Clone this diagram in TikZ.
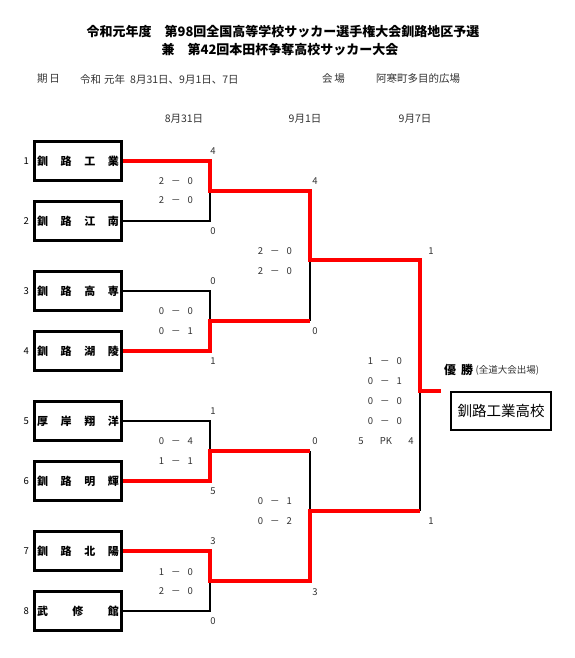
\documentclass[tikz,border=0pt]{standalone}
\usepackage{fontspec}
\setmainfont{Noto Sans CJK JP}
\usepackage{tikz}
\usetikzlibrary{positioning,calc}
\definecolor{winred}{RGB}{255,0,0}
\definecolor{textgray}{RGB}{50,50,50}
\tikzset{
  team/.style={draw,line width=3pt,minimum width=87pt,minimum height=39pt,inner sep=0pt,
    font=\bfseries\fontsize{11}{12}\selectfont},
  seed/.style={inner sep=0pt,font=\fontsize{9.5}{10}\selectfont},
  goal/.style={inner sep=0pt,font=\fontsize{9.5}{10}\selectfont,text=textgray},
  result/.style={inner sep=0pt,font=\fontsize{9.5}{10}\selectfont,text=textgray},
  dayhead/.style={inner sep=0pt,font=\fontsize{10.5}{12}\selectfont,text=textgray},
  lose/.style={line width=1.5pt,draw=black},
  win/.style={line width=3.8pt,draw=winred,line join=miter}
}

\begin{document}
\begin{tikzpicture}[x=1pt,y=-1pt]
\useasboundingbox (0,0) rectangle (575,658);

% titles
\node[font=\bfseries\fontsize{13}{15}\selectfont] (title1) at (283,32)
  {令和元年度　第98回全国高等学校サッカー選手権大会釧路地区予選};
\node[font=\bfseries\fontsize{13}{15}\selectfont] (title2) at (280,50)
  {兼　第42回本田杯争奪高校サッカー大会};

\node[dayhead,anchor=west] (kijitsu) at (37,79) {期\,日};
\node[dayhead,anchor=west] (dates) at (80,79) {令和\hspace{3pt}元年\hspace{5pt}8月31日、9月1日、7日};
\node[dayhead,anchor=west] (kaijo) at (322,79) {会\,場};
\node[dayhead,anchor=west] (venue) at (376,79) {阿寒町多目的広場};

\node[dayhead] (day1) at (184,119) {8月31日};
\node[dayhead] (day2) at (305,119) {9月1日};
\node[dayhead] (day3) at (415,119) {9月7日};

% teams
\foreach \n/\y/\lab in {
  1/161/{釧\hfill 路\hfill 工\hfill 業},
  2/221/{釧\hfill 路\hfill 江\hfill 南},
  3/291/{釧\hfill 路\hfill 高\hfill 専},
  4/351/{釧\hfill 路\hfill 湖\hfill 陵},
  5/421/{厚\hfill 岸\hfill 翔\hfill 洋},
  6/481/{釧\hfill 路\hfill 明\hfill 輝},
  7/551/{釧\hfill 路\hfill 北\hfill 陽},
  8/611/{武\hfill 修\hfill 館}}{
  \node[team] (t\n) at (78,\y) {\makebox[82pt][s]{\lab}};
  \node[seed,left=4pt of t\n] (n\n) {\n};
}

% bracket joints
\coordinate (m1) at (210,191);
\coordinate (m2) at (210,321);
\coordinate (m3) at (210,451);
\coordinate (m4) at (210,581);
\coordinate (s1) at (310,260);
\coordinate (s2) at (310,511);
\coordinate (f) at (420,391);
\coordinate (fend) at (441,391);

% losing sides
\draw[lose] (t2.east) -| (m1);
\draw[lose] (t3.east) -| (m2);
\draw[lose] (t5.east) -| (m3);
\draw[lose] (t8.east) -| (m4);
\draw[lose] (m2 -| s1) -- (s1);
\draw[lose] (m3 -| s2) -- (s2);
\draw[lose] (s2 -| f) -- (f);

% winning sides
\draw[win] (t1.east) -| (m1) -| (s1) -| (f) -- (fend);
\draw[win] (t4.east) -| (m2) -- (m2 -| s1);
\draw[win] (t6.east) -| (m3) -- (m3 -| s2);
\draw[win] (t7.east) -| (m4) -| (s2) -- (s2 -| f);

% goals
\foreach \x/\y/\g [count=\i] in {
  213/151/4, 213/231/0, 213/281/0, 213/361/1,
  213/411/1, 213/491/5, 213/541/3, 213/621/0,
  315/181/4, 315/331/0, 315/441/0, 315/592/3,
  431/251/1, 431/521/1}{
  \node[goal] (g\i) at (\x,\y) {\g};
}

% half scores
\foreach \x/\y/\a/\b [count=\i] in {
  176/181/2/0, 176/200/2/0, 176/311/0/0, 176/331/0/1,
  176/441/0/4, 176/461/1/1, 176/572/1/0, 176/591/2/0,
  275/251/2/0, 275/271/2/0, 275/501/0/1, 275/521/0/2,
  385/361/1/0, 385/381/0/1, 385/401/0/0, 385/421/0/0}{
  \node[result] (r\i) at (\x,\y) {\a\hspace{7pt}－\hspace{7pt}\b};
}
\node[result] (pka) at (361,441) {5};
\node[result] (pk) at (386,441) {PK};
\node[result] (pkb) at (411,441) {4};

% champion
\node[anchor=west,inner sep=0pt,font=\bfseries\fontsize{12}{13}\selectfont] (yusho) at (444,370) {優\hspace{5pt}勝};
\node[anchor=west,inner sep=0pt,font=\fontsize{9.5}{10}\selectfont,text=textgray,right=2pt of yusho] (zendo) {(全道大会出場)};
\node[draw,line width=2.6pt,minimum width=100pt,minimum height=38pt,inner sep=0pt,
  font=\fontsize{14.5}{16}\selectfont] (champ) at (501,411) {釧路工業高校};

\end{tikzpicture}
\end{document}
